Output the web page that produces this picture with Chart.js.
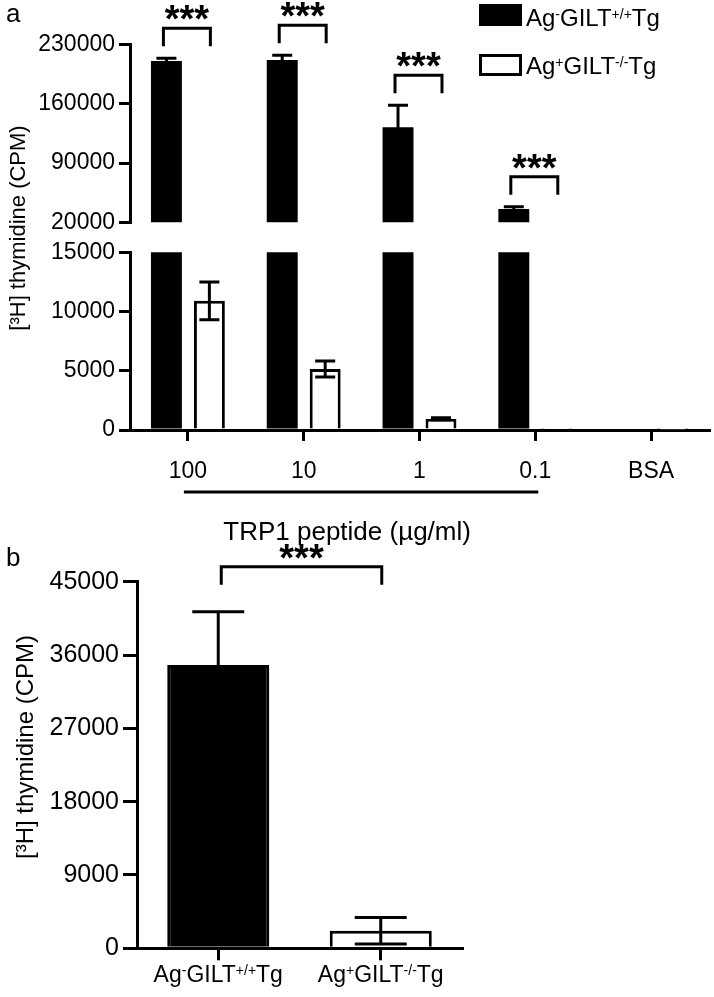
<!DOCTYPE html>
<html>
<head>
<meta charset="utf-8">
<script src="https://cdn.jsdelivr.net/npm/chart.js@4.4.1/dist/chart.umd.min.js"></script>
<style>
  html, body { margin: 0; padding: 0; background: #fff; }
  #wrap { position: relative; width: 714px; height: 997px; overflow: hidden; }
  #wrap canvas { position: absolute; left: 0; }
</style>
</head>
<body>
<div id="wrap">
  <canvas id="aTop" width="714" height="550" style="top:0"></canvas>
  <canvas id="aBot" width="714" height="550" style="top:0"></canvas>
  <canvas id="panelB" width="714" height="457" style="top:540px"></canvas>
</div>
<script>
const FONT = '"Liberation Sans", Arial, Helvetica, sans-serif';

// panel a: proliferation vs TRP1 peptide dose
const doses = ['100', '10', '1', '0.1', 'BSA'];
const wtCpm = [210500, 211700, 132300, 35800, 120];
const wtSem = [3200, 5500, 25900, 2700, 0];
const koCpm = [10900, 5150, 950, 30, 20];
const koSem = [1600, 680, 90, 0, 0];
const starsA = ['***', '***', '***', '***', ''];
const upperTicks = [20000, 90000, 160000, 230000];
const lowerTicks = [0, 5000, 10000, 15000];

// panel b
const groupsB = ['Ag^{-}GILT^{+/+}Tg', 'Ag^{+}GILT^{-/-}Tg'];
const cpmB = [34770, 2160];
const semB = [6550, 1620];
const ticksB = [0, 9000, 18000, 27000, 36000, 45000];
const starsB = '***';

const seriesNames = ['Ag^{-}GILT^{+/+}Tg', 'Ag^{+}GILT^{-/-}Tg'];
const yTitle = '[³H] thymidine (CPM)';
const xTitleA = 'TRP1 peptide (µg/ml)';

const plain = s => s.replace(/\^\{([^}]*)\}/g, '$1');

// text with ^{...} superscript runs
function drawRich(ctx, str, x, y, size, align) {
  const parts = [];
  str.split(/(\^\{[^}]*\})/).forEach(p => {
    if (!p) return;
    if (p.startsWith('^{')) parts.push({ t: p.slice(2, -1), sup: true });
    else parts.push({ t: p, sup: false });
  });
  const base = size + 'px ' + FONT;
  const small = Math.round(size * 0.6) + 'px ' + FONT;
  let w = 0;
  parts.forEach(p => {
    ctx.font = p.sup ? small : base;
    p.w = ctx.measureText(p.t).width;
    w += p.w;
  });
  let cx = align === 'center' ? x - w / 2 : x;
  ctx.textAlign = 'left';
  ctx.textBaseline = 'alphabetic';
  parts.forEach(p => {
    ctx.font = p.sup ? small : base;
    ctx.fillText(p.t, cx, p.sup ? y - size * 0.3 : y);
    cx += p.w;
  });
}

function drawBracket(ctx, x1, x2, legBottom, legH, text, size) {
  const top = legBottom - legH;
  ctx.save();
  ctx.strokeStyle = '#000';
  ctx.lineWidth = 3;
  ctx.beginPath();
  ctx.moveTo(x1, legBottom);
  ctx.lineTo(x1, top);
  ctx.lineTo(x2, top);
  ctx.lineTo(x2, legBottom);
  ctx.stroke();
  ctx.fillStyle = '#000';
  ctx.font = 'bold ' + size + 'px ' + FONT;
  ctx.textAlign = 'center';
  ctx.textBaseline = 'alphabetic';
  ctx.fillText(text, (x1 + x2) / 2, top + 4);
  ctx.restore();
}

function drawYTitle(ctx, cx, cy, size) {
  ctx.save();
  ctx.translate(cx, cy);
  ctx.rotate(-Math.PI / 2);
  ctx.fillStyle = '#000';
  ctx.font = size + 'px ' + FONT;
  ctx.textAlign = 'center';
  ctx.textBaseline = 'middle';
  ctx.fillText(yTitle, 0, 0);
  ctx.restore();
}

const errorBars = {
  id: 'errorBars',
  afterDatasetsDraw(chart, args, opts) {
    const { ctx, chartArea: a } = chart;
    const y = chart.scales.y;
    ctx.save();
    ctx.beginPath();
    ctx.rect(a.left, a.top - 2, a.right - a.left, a.bottom - a.top + 2);
    ctx.clip();
    ctx.strokeStyle = '#000';
    ctx.lineWidth = 3;
    chart.data.datasets.forEach((ds, d) => {
      const meta = chart.getDatasetMeta(d);
      ds.errors.forEach((e, i) => {
        if (!e) return;
        const bar = meta.data[i];
        const v = ds.data[i];
        const top = y.getPixelForValue(v + e);
        const bot = y.getPixelForValue(v - e);
        const half = opts.cap / 2;
        ctx.beginPath();
        ctx.moveTo(bar.x, bot); ctx.lineTo(bar.x, top);
        ctx.moveTo(bar.x - half, top); ctx.lineTo(bar.x + half, top);
        ctx.moveTo(bar.x - half, bot); ctx.lineTo(bar.x + half, bot);
        ctx.stroke();
      });
    });
    ctx.restore();
  }
};

function yAxis(min, max, list, width, tickLen, size) {
  return {
    min, max,
    afterBuildTicks: s => { s.ticks = list.map(v => ({ value: v })); },
    afterFit: s => { s.width = width; },
    border: { display: true, color: '#000', width: 3 },
    grid: { drawOnChartArea: false, drawTicks: true, tickLength: tickLen, color: '#000', lineWidth: 3 },
    ticks: { color: '#000', padding: 4, font: { family: FONT, size }, callback: v => String(v) }
  };
}

function barSets() {
  return [
    { label: plain(seriesNames[0]), data: wtCpm, errors: wtSem, backgroundColor: '#000', borderColor: '#000', borderWidth: 0, barPercentage: 0.72, categoryPercentage: 0.742 },
    { label: plain(seriesNames[1]), data: koCpm, errors: koSem, backgroundColor: '#fff', borderColor: '#000', borderWidth: 3, barPercentage: 0.72, categoryPercentage: 0.742 }
  ];
}

// upper segment of the broken axis, with brackets and legend
const upperExtras = {
  id: 'upperExtras',
  afterDraw(chart) {
    const { ctx, chartArea } = chart;
    const y = chart.scales.y;
    const m0 = chart.getDatasetMeta(0), m1 = chart.getDatasetMeta(1);
    starsA.forEach((s, i) => {
      if (!s) return;
      const capPx = Math.min(y.getPixelForValue(wtCpm[i] + wtSem[i]), y.getPixelForValue(koCpm[i] + koSem[i]));
      const legBottom = Math.max(capPx, chartArea.top) - 12;
      drawBracket(ctx, m0.data[i].x - 3, m1.data[i].x + 1, legBottom, 18, s, 38);
    });
    // legend
    ctx.save();
    ctx.lineWidth = 3;
    ctx.strokeStyle = '#000';
    ctx.fillStyle = '#000';
    ctx.fillRect(479, 4, 43, 22);
    ctx.strokeRect(480.5, 5.5, 40, 19);
    ctx.fillStyle = '#fff';
    ctx.fillRect(480.5, 55.5, 40, 19);
    ctx.strokeRect(480.5, 55.5, 40, 19);
    ctx.fillStyle = '#000';
    drawRich(ctx, seriesNames[0], 526, 26, 24, 'left');
    drawRich(ctx, seriesNames[1], 526, 74, 24, 'left');
    ctx.font = '26px ' + FONT;
    ctx.textAlign = 'left';
    ctx.fillText('a', 6, 22);
    ctx.restore();
  }
};

new Chart(document.getElementById('aTop'), {
  type: 'bar',
  data: { labels: doses, datasets: barSets() },
  options: {
    responsive: false,
    animation: false,
    layout: { padding: { top: 44.5, bottom: 327.7, left: 0, right: 5 } },
    plugins: { legend: { display: false }, tooltip: { enabled: false }, errorBars: { cap: 20 } },
    scales: {
      x: { display: false, grid: { offset: false } },
      y: yAxis(20000, 230000, upperTicks, 130, 11, 23)
    }
  },
  plugins: [errorBars, upperExtras]
});

// lower segment with dose axis
const lowerExtras = {
  id: 'lowerExtras',
  afterDraw(chart) {
    const { ctx } = chart;
    const x = chart.scales.x;
    const x0 = x.getPixelForTick(0) - 4;
    const x3 = x.getPixelForTick(3) + 3;
    ctx.save();
    ctx.strokeStyle = '#000';
    ctx.lineWidth = 3;
    ctx.beginPath();
    ctx.moveTo(x0, 492);
    ctx.lineTo(x3, 492);
    ctx.stroke();
    ctx.fillStyle = '#000';
    ctx.font = '26px ' + FONT;
    ctx.textAlign = 'center';
    ctx.textBaseline = 'alphabetic';
    ctx.fillText(xTitleA, (x0 + x3) / 2 - 14, 540);
    ctx.restore();
    drawYTitle(ctx, 19, 228, 22);
  }
};

new Chart(document.getElementById('aBot'), {
  type: 'bar',
  data: { labels: doses, datasets: barSets() },
  options: {
    responsive: false,
    animation: false,
    layout: { padding: { top: 252.3, bottom: 0, left: 0, right: 5 } },
    plugins: { legend: { display: false }, tooltip: { enabled: false }, errorBars: { cap: 20 } },
    scales: {
      x: {
        afterFit: s => { s.height = 120; },
        border: { display: true, color: '#000', width: 3 },
        grid: { offset: false, drawOnChartArea: false, tickLength: 11, color: '#000', lineWidth: 3 },
        ticks: { color: '#000', padding: 17, maxRotation: 0, font: { family: FONT, size: 23 } }
      },
      y: yAxis(0, 15000, lowerTicks, 130, 11, 23)
    }
  },
  plugins: [errorBars, lowerExtras]
});

// panel b
const panelBExtras = {
  id: 'panelBExtras',
  afterDraw(chart) {
    const { ctx } = chart;
    const x = chart.scales.x;
    const y = chart.scales.y;
    const m = chart.getDatasetMeta(0);
    const capPx = Math.min(y.getPixelForValue(cpmB[0] + semB[0]), y.getPixelForValue(cpmB[1] + semB[1]));
    drawBracket(ctx, m.data[0].x + 3, m.data[1].x + 1, capPx - 27, 18, starsB, 38);
    ctx.save();
    ctx.fillStyle = '#000';
    groupsB.forEach((g, i) => drawRich(ctx, g, x.getPixelForTick(i), 442, 23, 'center'));
    ctx.font = '26px ' + FONT;
    ctx.textAlign = 'left';
    ctx.textBaseline = 'alphabetic';
    ctx.fillText('b', 6, 26);
    ctx.restore();
    drawYTitle(ctx, 26, 207, 24);
  }
};

new Chart(document.getElementById('panelB'), {
  type: 'bar',
  data: {
    labels: groupsB.map(plain),
    datasets: [{ label: 'CPM', data: cpmB, errors: semB, backgroundColor: ['#000', '#fff'], borderColor: '#000', borderWidth: 3, barPercentage: 0.628, categoryPercentage: 1 }]
  },
  options: {
    responsive: false,
    animation: false,
    layout: { padding: { top: 41.7, bottom: 0, left: 0, right: 252 } },
    plugins: { legend: { display: false }, tooltip: { enabled: false }, errorBars: { cap: 52 } },
    scales: {
      x: {
        afterFit: s => { s.height = 48.7; },
        border: { display: true, color: '#000', width: 3 },
        grid: { offset: false, drawOnChartArea: false, tickLength: 12, color: '#000', lineWidth: 3 },
        ticks: { callback: () => '', font: { family: FONT, size: 23 } }
      },
      y: yAxis(0, 45000, ticksB, 137, 14, 25)
    }
  },
  plugins: [errorBars, panelBExtras]
});
</script>
</body>
</html>
